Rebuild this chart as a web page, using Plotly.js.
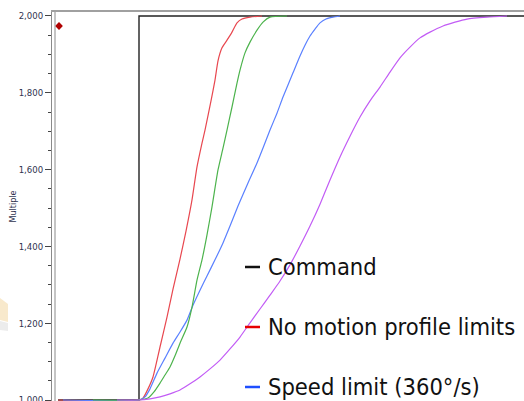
<!DOCTYPE html>
<html>
<head>
<meta charset="utf-8">
<script src="https://cdn.plot.ly/plotly-3.0.1.min.js"></script>
<style>html,body{margin:0;padding:0;background:#fff;}#chart{width:524px;height:401px;}</style>
</head>
<body>
<div id="chart"></div>
<script>
// Time in seconds (arbitrary scale), position values
const cmdT = [0.06, 0.87, 0.87, 4.72];
const cmdV = [1000, 1000, 2000, 2000];

const redT = [0.06, 0.87, 0.91, 0.96, 1.01, 1.08, 1.15, 1.21, 1.28, 1.34, 1.40, 1.45, 1.50, 1.53, 1.59, 1.63, 1.66, 1.70, 1.75, 1.80, 1.85, 1.90, 1.98, 2.10];
const redV = [1000, 1000, 1005, 1029, 1060, 1138, 1216, 1289, 1367, 1440, 1521, 1607, 1669, 1703, 1779, 1833, 1883, 1917, 1937, 1958, 1982, 1992, 1997, 2000];

const blueT = [0.11, 0.87, 0.93, 0.98, 1.05, 1.13, 1.21, 1.28, 1.35, 1.41, 1.48, 1.55, 1.63, 1.71, 1.78, 1.86, 1.96, 2.05, 2.11, 2.18, 2.25, 2.31, 2.41, 2.48, 2.53, 2.58, 2.63, 2.68, 2.74, 2.81, 2.88];
const blueV = [1000, 1000, 1008, 1029, 1070, 1109, 1148, 1177, 1208, 1247, 1286, 1323, 1365, 1409, 1453, 1505, 1565, 1617, 1656, 1703, 1747, 1789, 1852, 1896, 1924, 1948, 1966, 1982, 1992, 1997, 2000];

const greenT = [0.41, 0.87, 0.96, 1.02, 1.08, 1.13, 1.18, 1.23, 1.28, 1.35, 1.40, 1.45, 1.50, 1.55, 1.60, 1.66, 1.71, 1.75, 1.80, 1.85, 1.88, 1.93, 1.98, 2.05, 2.11, 2.18, 2.35];
const greenV = [1000, 1000, 1005, 1021, 1044, 1065, 1086, 1115, 1148, 1190, 1242, 1312, 1365, 1430, 1503, 1599, 1656, 1703, 1763, 1825, 1859, 1904, 1932, 1963, 1984, 1997, 2000];

const purpleT = [0.65, 0.87, 0.98, 1.08, 1.18, 1.28, 1.38, 1.48, 1.58, 1.68, 1.78, 1.88, 1.98, 2.08, 2.18, 2.28, 2.38, 2.48, 2.58, 2.68, 2.78, 2.88, 2.98, 3.08, 3.18, 3.28, 3.38, 3.48, 3.58, 3.68, 3.78, 3.91, 4.03, 4.15, 4.35, 4.55];
const purpleV = [1000, 1000, 1003, 1008, 1016, 1026, 1042, 1060, 1081, 1104, 1133, 1164, 1201, 1237, 1273, 1310, 1352, 1401, 1453, 1510, 1573, 1633, 1687, 1737, 1779, 1815, 1854, 1891, 1919, 1943, 1958, 1974, 1984, 1992, 1997, 2000];

const markerT = [0.07];
const markerV = [1974];

const yTicks = [1000, 1200, 1400, 1600, 1800, 2000];
const legendLabels = ["Command", "No motion profile limits", "Speed limit (360°/s)"];
const legendColors = ["#111111", "#e60000", "#1f4fff"];

const FONT = "'DejaVu Sans Condensed', 'Liberation Sans', sans-serif";

const sm = {shape: 'spline', smoothing: 0.5, width: 1.2};
const traces = [
  {x: cmdT, y: cmdV, mode: 'lines', name: 'Command', line: {color: '#222222', width: 1.4}, showlegend: false},
  {x: redT, y: redV, mode: 'lines', name: 'No motion profile limits', line: Object.assign({color: '#e8474f'}, sm), showlegend: false},
  {x: blueT, y: blueV, mode: 'lines', name: 'Speed limit (360°/s)', line: Object.assign({color: '#5a80ff'}, sm), showlegend: false},
  {x: greenT, y: greenV, mode: 'lines', name: 'green', line: Object.assign({color: '#4cb34c'}, sm), showlegend: false},
  {x: purpleT, y: purpleV, mode: 'lines', name: 'purple', line: Object.assign({color: '#c25cf5'}, sm), showlegend: false},
  {x: markerT, y: markerV, mode: 'markers', name: 'marker', marker: {symbol: 'diamond', size: 6, color: '#b00000'}, showlegend: false}
];

const W = 524, H = 401, L = 52, T = 12;
const pw = W - L, ph = H - T;
function px2paperX(px){ return (px - L) / pw; }
function px2paperY(py){ return (H - py) / ph; }

const legendY = [267, 327, 387];
const annotations = legendLabels.map((t, i) => ({
  text: t, xref: 'paper', yref: 'paper', x: px2paperX(266), y: px2paperY(legendY[i]),
  xanchor: 'left', yanchor: 'middle', showarrow: false,
  font: {family: FONT, size: 23.5, color: '#111111'}
}));
const shapes = legendLabels.map((t, i) => ({
  type: 'line', xref: 'paper', yref: 'paper',
  x0: px2paperX(245), x1: px2paperX(260), y0: px2paperY(legendY[i]), y1: px2paperY(legendY[i]),
  line: {color: legendColors[i], width: 2.5}
}));
shapes.push({type: 'line', xref: 'paper', yref: 'paper', x0: px2paperX(55), x1: px2paperX(55), y0: 0, y1: 1,
  line: {color: '#8a8a8a', width: 1}});
// faint background decoration at the far left
function P(px, py){ return px2paperX(px).toFixed(4) + ',' + px2paperY(py).toFixed(4); }
shapes.push({type: 'path', xref: 'paper', yref: 'paper', layer: 'below', line: {width: 0}, fillcolor: '#f8e9cc',
  path: 'M' + P(0, 298) + ' L' + P(8, 304) + ' L' + P(8, 322) + ' L' + P(0, 320) + ' Z'});
shapes.push({type: 'path', xref: 'paper', yref: 'paper', layer: 'below', line: {width: 0}, fillcolor: '#ececec',
  path: 'M' + P(0, 321) + ' L' + P(8, 323) + ' L' + P(8, 331) + ' L' + P(0, 330) + ' Z'});

const layout = {
  width: W, height: H,
  margin: {l: L, r: 0, t: T, b: 0, pad: 0},
  paper_bgcolor: '#ffffff', plot_bgcolor: '#ffffff',
  showlegend: false,
  xaxis: {range: [0, 4.72], showgrid: false, zeroline: false, showticklabels: false, ticks: '',
          showline: true, mirror: true, linecolor: '#a0a0a0', linewidth: 2},
  yaxis: {range: [997.4, 2010.4], tickvals: yTicks, tickformat: ',d', showgrid: false, zeroline: false,
          ticks: 'outside', ticklen: 6, tickwidth: 1, tickcolor: '#444444', ticklabeloverflow: 'allow',
          minor: {dtick: 50, ticks: 'outside', ticklen: 3, tickcolor: '#444444', showgrid: false},
          showline: true, linecolor: '#8a8a8a', linewidth: 1,
          tickfont: {family: FONT, size: 9.5, color: '#2f3350'},
          title: {text: 'Multiple', font: {family: FONT, size: 9, color: '#2f3350'}, standoff: 0},
          automargin: false},
  annotations: annotations,
  shapes: shapes
};

Plotly.newPlot('chart', traces, layout, {displayModeBar: false, staticPlot: true});
</script>
</body>
</html>
